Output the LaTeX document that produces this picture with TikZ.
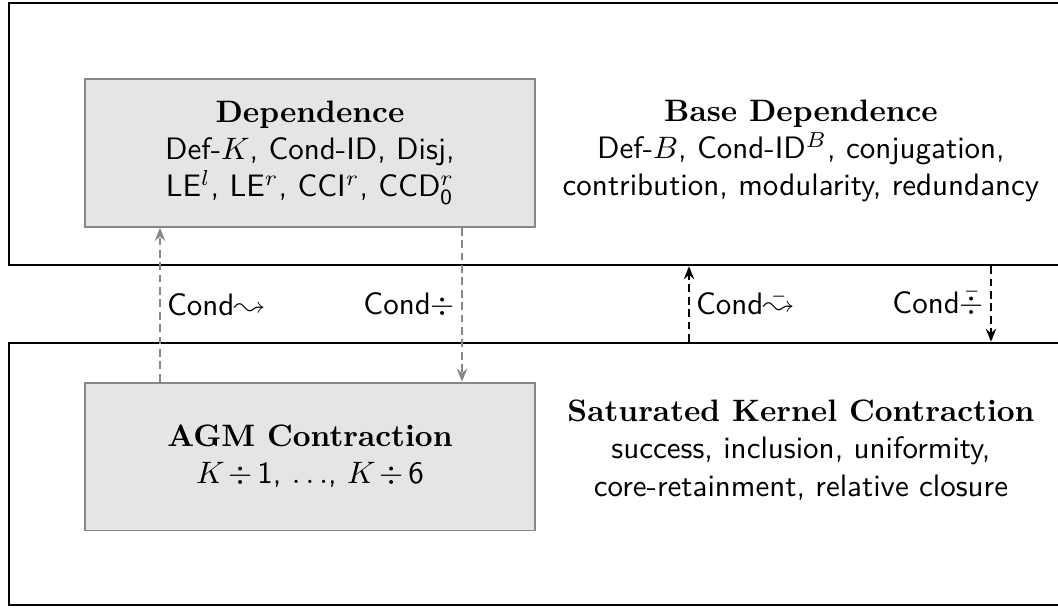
\documentclass[tikz,border=0pt]{standalone}
\usepackage{latexsym}
\usetikzlibrary{arrows.meta}
\begin{document}
\begin{tikzpicture}[x=0.3226pt,y=-0.3226pt,
  region/.style={draw=black, line width=0.85pt, rectangle, inner sep=0pt,
    minimum width=355.2pt, minimum height=84.5pt},
  theory/.style={draw=black!47, fill=black!10, line width=0.6pt,
    minimum width=145.2pt, minimum height=47.7pt, align=center,
    font=\sffamily, inner sep=0pt},
  caption/.style={align=center, font=\sffamily},
  link/.style={dash pattern=on 2.5pt off 1.5pt, line width=0.55pt,
    -{Stealth[length=4.2pt,width=3.4pt,inset=1.4pt]}},
  weak/.style={link, draw=black!47},
  strong/.style={link, draw=black},
  tag/.style={font=\sffamily, inner sep=2pt}
]
\useasboundingbox (0,0) rectangle (1058,608);
\clip (0,0) rectangle (1058,608);

% the two outer regions
\node[region] (base) at (559.5,134) {};
\node[region] (kernel) at (559.5,474) {};

% the two grey theory boxes
\node[theory] (dep) at (310,153) {\textrm{\textbf{Dependence}}\\
  Def-$K$, Cond-ID, Disj,\\
  LE$^l$, LE$^r$, CCI$^r$, CCD$^r_{\mathsf{0}}$};
\node[theory] (agm) at (310,456.5) {\textrm{\textbf{AGM Contraction}}\\
  $K\mskip2mu\div\mskip3mu$1, $\ldots$, $K\mskip2mu\div\mskip3mu$6};

% captions of the outer regions
\node[caption] (basetxt) at (801,151) {\textrm{\textbf{Base Dependence}}\\
  Def-$B$, Cond-ID$^B$, conjugation,\\
  contribution, modularity, redundancy};
\node[caption] (kerntxt) at (801,450) {\textrm{\textbf{Saturated Kernel Contraction}}\\
  success, inclusion, uniformity,\\
  core-retainment, relative closure};

% columns of the connectors
\coordinate (c1) at (160,0);
\coordinate (c2) at (462,0);
\coordinate (c3) at (689,0);
\coordinate (c4) at (991,0);

\draw[weak] (agm.north -| c1) -- node[tag, right] {Cond$\leadsto$} (dep.south -| c1);
\draw[weak] (dep.south -| c2) -- node[tag, left] {Cond$\div$} (agm.north -| c2);
\draw[strong] (kernel.north -| c3) -- node[tag, right] {Cond$\bar{\leadsto}$} (base.south -| c3);
\draw[strong] (base.south -| c4) -- node[tag, left] {Cond$\bar{\div}$} (kernel.north -| c4);
\end{tikzpicture}
\end{document}
